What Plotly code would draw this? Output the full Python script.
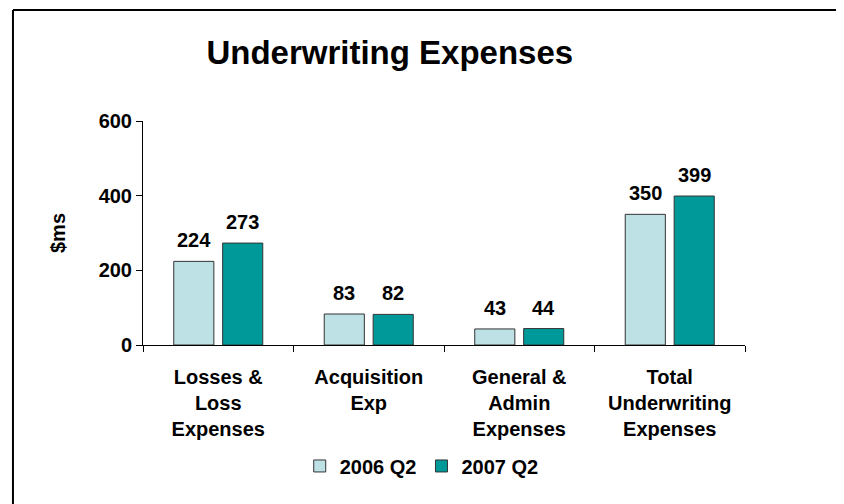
import plotly.graph_objects as go

# chart data
categories = ["Losses &<br>Loss<br>Expenses", "Acquisition<br>Exp",
              "General &<br>Admin<br>Expenses", "Total<br>Underwriting<br>Expenses"]
series_names = ["2006 Q2", "2007 Q2"]
values_2006 = [224, 83, 43, 350]
values_2007 = [273, 82, 44, 399]
y_ticks = [0, 200, 400, 600]

colors = ["#BDE1E4", "#009999"]
bold = dict(family="Arial", color="black", weight="bold")

# page body has an 8px margin, so everything is laid out 8px up/left
fig = go.Figure()
for name, vals, col in zip(series_names, [values_2006, values_2007], colors):
    fig.add_trace(go.Bar(
        x=categories, y=vals, name=name,
        marker=dict(color=col, line=dict(color="#333333", width=1)),
    ))

# value labels above each bar
for vals, shift in zip([values_2006, values_2007], [-24.5, 24.5]):
    for c, v in zip(categories, vals):
        fig.add_annotation(x=c, y=v, text=str(v), showarrow=False,
                           xshift=shift, yshift=8, yanchor="bottom",
                           font=dict(size=20, **bold))

fig.update_layout(
    width=844, height=504,
    margin=dict(l=135, r=107, t=113, b=167),
    paper_bgcolor="white", plot_bgcolor="white",
    barmode="group", bargap=0.35, bargroupgap=0.18,
    title=dict(text="Underwriting Expenses", font=dict(size=33, **bold),
               x=0.41, xref="paper", xanchor="center",
               y=1 - 44 / 504, yref="container", yanchor="middle"),
    legend=dict(orientation="h", x=0.463, xanchor="center", y=-0.54, yanchor="middle",
                font=dict(size=20, **bold), itemwidth=30),
    showlegend=True,
)

fig.update_xaxes(
    showline=True, linecolor="black", linewidth=1,
    ticks="outside", tickson="boundaries", ticklen=6, tickcolor="black",
    tickfont=dict(size=20, **bold), showgrid=False, ticklabelstandoff=14,
)
fig.update_yaxes(
    range=[0, 600], tickvals=y_ticks, showline=True, linecolor="black", linewidth=1,
    ticks="outside", ticklen=6, tickcolor="black", showgrid=False, zeroline=False,
    tickfont=dict(size=20, **bold),
    title=dict(text="$ms", font=dict(size=20, **bold), standoff=27),
)

# slide border (left and top edges)
fig.add_shape(type="line", xref="paper", yref="paper", x0=-0.216, x1=-0.216, y0=1.4955, y1=-0.8,
              line=dict(color="black", width=2))
fig.add_shape(type="line", xref="paper", yref="paper", x0=-0.216, x1=1.2, y0=1.4955, y1=1.4955,
              line=dict(color="black", width=2))

fig.write_html("out.html")
